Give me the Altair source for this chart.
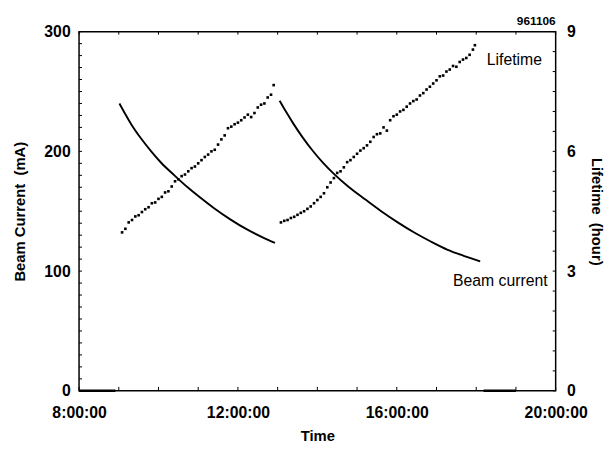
import altair as alt
import pandas as pd

DAY = "1996-11-06T"
FONT = "Liberation Sans"

# ---- Beam current (mA) ----
beam1_time = ["09:01", "09:10", "09:19", "09:34", "09:49", "10:04", "10:24", "10:44",
              "11:04", "11:24", "11:49", "12:13", "12:38", "12:56"]
beam1_mA = [240, 231, 222.5, 210.5, 200, 190.5, 180, 170, 161, 152.5, 143, 135, 128, 123.5]

beam2_time = ["13:03", "13:13", "13:23", "13:38", "13:53", "14:08", "14:25", "14:47",
              "15:12", "15:37", "16:02", "16:27", "16:52", "17:16", "17:41", "18:06"]
beam2_mA = [242.3, 232.8, 223.8, 211.5, 200.5, 190.8, 181.2, 170.5, 160, 149.8, 140.5,
            132, 124.5, 118, 112.8, 108.2]

# beam off (0 mA) periods
off1_time = ["08:00", "08:55"]
off1_mA = [0, 0]
off2_time = ["18:11", "19:00"]
off2_mA = [0, 0]

# ---- Lifetime (hour) ----
life1_time = ["09:05", "09:10", "09:15", "09:20", "09:25", "09:30", "09:35", "09:40",
              "09:45", "09:50", "09:55", "10:00", "10:05", "10:10", "10:15", "10:20",
              "10:25", "10:30", "10:35", "10:40", "10:45", "10:50", "10:55", "11:00",
              "11:05", "11:10", "11:15", "11:20", "11:25", "11:30", "11:35", "11:40",
              "11:45", "11:50", "11:55", "12:00", "12:05", "12:10", "12:15", "12:20",
              "12:25", "12:30", "12:35", "12:40", "12:45", "12:50", "12:54"]
life1_h = [3.97, 4.06, 4.22, 4.28, 4.37, 4.40, 4.48, 4.55, 4.60, 4.70, 4.72, 4.81,
           4.86, 4.97, 5.00, 5.12, 5.25, 5.30, 5.38, 5.42, 5.50, 5.58, 5.62, 5.70,
           5.78, 5.86, 5.92, 6.00, 6.04, 6.17, 6.30, 6.40, 6.58, 6.62, 6.68, 6.72,
           6.78, 6.85, 6.92, 6.86, 6.96, 7.10, 7.17, 7.20, 7.35, 7.42, 7.66]

life2_time = ["13:05", "13:10", "13:15", "13:20", "13:25", "13:30", "13:35", "13:40",
              "13:45", "13:50", "13:55", "14:00", "14:05", "14:10", "14:15", "14:20",
              "14:25", "14:30", "14:35", "14:40", "14:45", "14:50", "14:55", "15:00",
              "15:05", "15:10", "15:15", "15:20", "15:25", "15:30", "15:35", "15:40",
              "15:45", "15:50", "15:55", "16:00", "16:05", "16:10", "16:15", "16:20",
              "16:25", "16:30", "16:35", "16:40", "16:45", "16:50", "16:55", "17:00",
              "17:05", "17:10", "17:15", "17:20", "17:25", "17:30", "17:35", "17:40",
              "17:45", "17:50", "17:55", "17:58"]
life2_h = [4.22, 4.26, 4.28, 4.33, 4.36, 4.41, 4.46, 4.50, 4.56, 4.62, 4.70, 4.78,
           4.86, 4.95, 5.10, 5.22, 5.33, 5.46, 5.50, 5.60, 5.73, 5.78, 5.86, 5.94,
           6.02, 6.08, 6.15, 6.24, 6.36, 6.43, 6.45, 6.60, 6.52, 6.78, 6.88, 6.92,
           7.00, 7.04, 7.12, 7.20, 7.26, 7.30, 7.40, 7.46, 7.55, 7.62, 7.70, 7.78,
           7.88, 7.90, 8.00, 8.05, 8.14, 8.12, 8.24, 8.30, 8.34, 8.42, 8.55, 8.66]

# ---- axes ----
x_label_hours = [8, 12, 16, 20]
x_tick_hours = list(range(8, 21))
left_labels = [0, 100, 200, 300]
left_ticks = list(range(0, 301, 10))
right_labels = [0, 3, 6, 9]
right_ticks = [i * 0.5 for i in range(0, 19)]

# ---- annotations ----
ann_text = ["Lifetime", "Beam current"]
ann_time = ["18:16", "17:25"]
ann_mA = [276, 92]


def ts(hm):
    return DAY + hm + ":00"


def dt(h):
    return alt.DateTime(year=1996, month=11, date=6, hours=h)


beam_df = pd.DataFrame({
    "t": [ts(s) for s in beam1_time + beam2_time],
    "mA": beam1_mA + beam2_mA,
    "seg": ["a"] * len(beam1_time) + ["b"] * len(beam2_time),
})
off_df = pd.DataFrame({
    "t": [ts(s) for s in off1_time + off2_time],
    "mA": off1_mA + off2_mA,
    "seg": ["o1"] * len(off1_time) + ["o2"] * len(off2_time),
})
life_df = pd.DataFrame({
    "t": [ts(s) for s in life1_time + life2_time],
    "L": life1_h + life2_h,
})
xt_df = pd.DataFrame({"t": [ts("%02d:00" % h) for h in x_tick_hours]})
lt_df = pd.DataFrame({"v": left_ticks})
rt_df = pd.DataFrame({"v": right_ticks})
ann_df = pd.DataFrame({"t": [ts(s) for s in ann_time], "mA": ann_mA, "txt": ann_text})

W, H = 483, 364

xscale = alt.Scale(domain=[dt(8), dt(20)])
xaxis = alt.Axis(
    values=[dt(h) for h in x_label_hours], format="%-H:%M:%S", title="Time",
    orient="bottom", ticks=False, domain=False, grid=False, labelFlush=False,
    labelOverlap=False, labelFont=FONT, labelFontSize=16, labelFontWeight="bold",
    labelColor="black", labelPadding=14, titleFont=FONT, titleFontSize=15,
    titleFontWeight="bold", titleColor="black", titlePadding=8,
)
lscale = alt.Scale(domain=[0, 300], nice=False, zero=True)
laxis = alt.Axis(
    values=left_labels, title="Beam Current\u00a0 (mA)", orient="left", ticks=False,
    domain=False, grid=False, labelFont=FONT, labelFontSize=16, labelFontWeight="bold",
    labelColor="black", labelPadding=9, titleFont=FONT, titleFontSize=15,
    titleFontWeight="bold", titleColor="black", titlePadding=17,
)
rscale = alt.Scale(domain=[0, 9], nice=False, zero=True)
raxis = alt.Axis(
    values=right_labels, title="Lifetime\u00a0 (hour)", orient="right", ticks=False,
    domain=False, grid=False, labelFont=FONT, labelFontSize=16, labelFontWeight="bold",
    labelColor="black", labelPadding=11, titleFont=FONT, titleFontSize=15,
    titleFontWeight="bold", titleColor="black", titlePadding=13, titleAngle=90,
)

X = alt.X("t:T", scale=xscale, axis=xaxis)

beam = alt.Chart(beam_df).mark_line(color="black", strokeWidth=1.9, interpolate="monotone").encode(
    x=X, y=alt.Y("mA:Q", scale=lscale, axis=laxis), detail="seg:N")
off = alt.Chart(off_df).mark_line(color="black", strokeWidth=2.6).encode(
    x=X, y=alt.Y("mA:Q", scale=lscale, axis=laxis), detail="seg:N")
lticks = alt.Chart(lt_df).mark_rule(color="black", strokeWidth=1).encode(
    y=alt.Y("v:Q", scale=lscale, axis=laxis), x=alt.value(0), x2=alt.value(3))
bticks = alt.Chart(xt_df).mark_rule(color="black", strokeWidth=1).encode(
    x=X, y=alt.value(H), y2=alt.value(H - 4))
tticks = alt.Chart(xt_df).mark_rule(color="black", strokeWidth=1).encode(
    x=X, y=alt.value(0), y2=alt.value(3))
ann = alt.Chart(ann_df).mark_text(align="left", baseline="middle", font=FONT,
                                   fontSize=16, color="black").encode(
    x=X, y=alt.Y("mA:Q", scale=lscale, axis=laxis), text="txt:N")
stamp = alt.Chart(pd.DataFrame({"s": ["961106"]})).mark_text(
    align="right", baseline="alphabetic", font=FONT, fontSize=12, fontWeight="bold",
    color="black").encode(x=alt.value(W), y=alt.value(-7), text="s:N")

left_group = alt.layer(off, beam, lticks, bticks, tticks, ann, stamp)

life = alt.Chart(life_df).mark_square(color="black", size=7, opacity=1).encode(
    x=X, y=alt.Y("L:Q", scale=rscale, axis=raxis))
rticks = alt.Chart(rt_df).mark_rule(color="black", strokeWidth=1).encode(
    y=alt.Y("v:Q", scale=rscale, axis=raxis), x=alt.value(W), x2=alt.value(W - 3))

right_group = alt.layer(life, rticks)

chart = alt.layer(left_group, right_group).resolve_scale(y="independent").properties(
    width=W, height=H,
    autosize=alt.AutoSizeParams(type="none"),
    padding={"left": 72, "top": 21, "right": 50, "bottom": 56},
    background="white",
).configure_view(stroke="black", strokeWidth=1.5)

chart.save("out.html", embed_options={"renderer": "svg", "actions": False})
